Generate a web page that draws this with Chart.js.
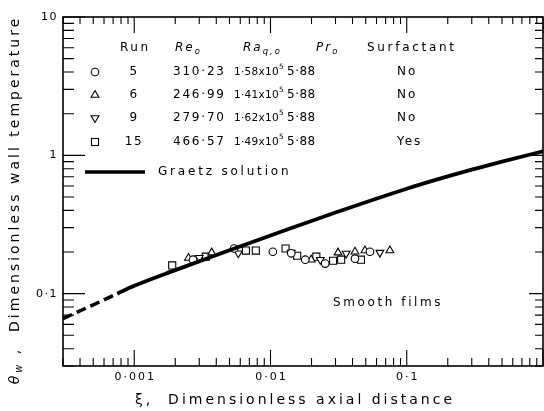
<!DOCTYPE html>
<html>
<head>
<meta charset="utf-8">
<script src="https://cdn.jsdelivr.net/npm/chart.js@4.4.0/dist/chart.umd.min.js"></script>
<style>
  html, body { margin: 0; padding: 0; background: #fff; }
  canvas { display: block; }
</style>
</head>
<body>
<canvas id="chart" width="544" height="411"></canvas>
<script>
// --- Graetz solution (dashed part at small xi, then solid) ---
const graetzDashX = [0.0003, 0.0005, 0.00075];
const graetzDashY = [0.066, 0.083, 0.1];
const graetzX = [0.00075, 0.001, 0.002, 0.005, 0.01, 0.03, 0.1, 0.163, 0.3, 0.5, 1.0];
const graetzY = [0.1, 0.114, 0.148, 0.206, 0.263, 0.386, 0.574, 0.665, 0.789, 0.9, 1.07];

// --- measured runs ---
const run5X = [0.0027, 0.0054, 0.0104, 0.0142, 0.018, 0.0252, 0.0417, 0.0537];
const run5Y = [0.176, 0.212, 0.201, 0.196, 0.176, 0.165, 0.179, 0.201];
const run6X = [0.0025, 0.0037, 0.0199, 0.0313, 0.0417, 0.0493, 0.0752];
const run6Y = [0.181, 0.198, 0.176, 0.198, 0.201, 0.205, 0.205];
const run9X = [0.003, 0.0058, 0.0142, 0.0232, 0.0359, 0.0635];
const run9Y = [0.182, 0.196, 0.198, 0.176, 0.195, 0.198];
const run15X = [0.0019, 0.00335, 0.0066, 0.0078, 0.0129, 0.0157, 0.0217, 0.0288, 0.033, 0.0461];
const run15Y = [0.16, 0.185, 0.205, 0.205, 0.212, 0.188, 0.185, 0.173, 0.176, 0.176];

// --- tick labels ---
const xTickValues = [0.001, 0.01, 0.1];
const xTickText = ["0·001", "0·01", "0·1"];
const yTickValues = [10, 1, 0.1];
const yTickText = ["10", "1", "0·1"];

// --- table in the plot ---
const runNames = ["5", "6", "9", "15"];
const reValues = ["310·23", "246·99", "279·70", "466·57"];
const raValues = ["1·58x10", "1·41x10", "1·62x10", "1·49x10"];
const prValues = ["5·88", "5·88", "5·88", "5·88"];
const surfactant = ["No", "No", "No", "Yes"];

const FONT = '"DejaVu Sans"';
const pts = (xs, ys) => xs.map((v, i) => ({ x: v, y: ys[i] }));

// draws text pieces with sub/superscripts, returns end x
function rich(ctx, parts, x, y, size) {
  parts.forEach(p => {
    const fs = p.s ? size * 0.7 : size;
    ctx.font = (p.i ? "italic " : "") + fs + "px " + FONT;
    const dy = p.s === "sub" ? size * 0.35 : p.s === "sup" ? -size * 0.45 : 0;
    ctx.fillText(p.t, x, y + dy);
    x += ctx.measureText(p.t).width;
  });
  return x;
}

function richWidth(ctx, parts, size) {
  let w = 0;
  parts.forEach(p => {
    const fs = p.s ? size * 0.7 : size;
    ctx.font = (p.i ? "italic " : "") + fs + "px " + FONT;
    w += ctx.measureText(p.t).width;
  });
  return w;
}

function text(ctx, s, x, y, size, spacing, align) {
  ctx.font = size + "px " + FONT;
  ctx.letterSpacing = spacing + "px";
  ctx.textAlign = align || "left";
  ctx.fillText(s, x, y);
  ctx.textAlign = "left";
}

const decor = {
  id: "decor",
  afterDraw(chart) {
    const { ctx, chartArea: a } = chart;
    const xs = chart.scales.x, ys = chart.scales.y;
    ctx.save();
    ctx.strokeStyle = "#000";
    ctx.fillStyle = "#000";

    // frame
    ctx.lineWidth = 1.6;
    ctx.strokeRect(a.left, a.top, a.right - a.left, a.bottom - a.top);

    // inward ticks
    ctx.lineWidth = 1.1;
    ctx.beginPath();
    for (let d = -4; d <= 0; d++) {
      for (let m = 1; m < 10; m++) {
        const v = m * Math.pow(10, d);
        if (v < xs.min * 0.999 || v > xs.max * 1.001) continue;
        const px = xs.getPixelForValue(v);
        const major = m === 1;
        ctx.moveTo(px, a.bottom); ctx.lineTo(px, a.bottom - (major ? 16 : 8));
        ctx.moveTo(px, a.top); ctx.lineTo(px, a.top + (major ? 16 : 7));
      }
    }
    for (let d = -2; d <= 1; d++) {
      for (let m = 1; m < 10; m++) {
        const v = m * Math.pow(10, d);
        if (v < ys.min * 0.999 || v > ys.max * 1.001) continue;
        const py = ys.getPixelForValue(v);
        const major = m === 1;
        ctx.moveTo(a.left, py); ctx.lineTo(a.left + (major ? 22 : 11), py);
        ctx.moveTo(a.right, py); ctx.lineTo(a.right - (major ? 14 : 8), py);
      }
    }
    ctx.stroke();

    ctx.textBaseline = "middle";

    // tick labels, placed by the scales
    xTickValues.forEach((v, i) => {
      text(ctx, xTickText[i], xs.getPixelForValue(v) + 1, a.bottom + 11, 11, 2, "center");
    });
    yTickValues.forEach((v, i) => {
      text(ctx, yTickText[i], a.left - 5, ys.getPixelForValue(v), 11, 1.5, "right");
    });

    // axis titles
    text(ctx, "ξ,  Dimensionless axial distance", 295, 400, 14, 3, "center");

    ctx.save();
    ctx.letterSpacing = "3px";
    const tparts = [{ t: "θ", i: 1 }, { t: "w", s: "sub", i: 1 }, { t: " ,  Dimensionless wall temperature" }];
    ctx.translate(15, 200);
    ctx.rotate(-Math.PI / 2);
    const tw = richWidth(ctx, tparts, 14);
    rich(ctx, tparts, -tw / 2, 0, 14);
    ctx.restore();

    // table
    const hy = 48;
    text(ctx, "Run", 120, hy, 12, 2.5);
    ctx.letterSpacing = "2px";
    rich(ctx, [{ t: "Re", i: 1 }, { t: "o", s: "sub", i: 1 }], 175, hy, 12);
    rich(ctx, [{ t: "Ra", i: 1 }, { t: "q,o", s: "sub", i: 1 }], 243, hy, 12);
    rich(ctx, [{ t: "Pr", i: 1 }, { t: "o", s: "sub", i: 1 }], 316, hy, 12);
    text(ctx, "Surfactant", 367, hy, 12, 2.7);

    const rowY = [72, 95, 118, 142];
    const dsIdx = [2, 3, 4, 5];
    rowY.forEach((ry, i) => {
      const ds = chart.data.datasets[dsIdx[i]];
      ctx.save();
      ctx.fillStyle = "#fff";
      ctx.strokeStyle = "#000";
      ctx.lineWidth = 1.1;
      Chart.helpers.drawPoint(ctx, {
        pointStyle: ds.pointStyle, radius: ds.pointRadius,
        rotation: ds.pointRotation || 0, borderWidth: 1.1
      }, 95, ry);
      ctx.restore();
      text(ctx, runNames[i], 134, ry, 12, 1.5, "center");
      text(ctx, reValues[i], 173, ry, 12, 1.8);
      ctx.letterSpacing = "0.3px";
      rich(ctx, [{ t: raValues[i] }, { t: "5", s: "sup" }], 234, ry, 10.5);
      text(ctx, prValues[i], 287, ry, 12, 0.5);
      text(ctx, surfactant[i], 397, ry, 12, 2);
    });

    // Graetz legend line
    ctx.lineWidth = 3.5;
    ctx.beginPath();
    ctx.moveTo(85, 172); ctx.lineTo(145, 172);
    ctx.stroke();
    text(ctx, "Graetz solution", 158, 172, 12, 2.8);

    text(ctx, "Smooth films", 333, 303, 12, 2.6);
    ctx.restore();
  }
};

new Chart(document.getElementById("chart"), {
  type: "scatter",
  data: {
    datasets: [
      {
        label: "Graetz (dashed)",
        data: pts(graetzDashX, graetzDashY),
        showLine: true,
        borderColor: "#000",
        borderWidth: 3.5,
        borderDash: [10, 5],
        pointRadius: 0,
        tension: 0
      },
      {
        label: "Graetz solution",
        data: pts(graetzX, graetzY),
        showLine: true,
        borderColor: "#000",
        borderWidth: 3.8,
        pointRadius: 0,
        cubicInterpolationMode: "monotone"
      },
      {
        label: "Run 5",
        data: pts(run5X, run5Y),
        pointStyle: "circle",
        pointRadius: 3.8,
        backgroundColor: "#fff",
        borderColor: "#000",
        borderWidth: 1.1
      },
      {
        label: "Run 6",
        data: pts(run6X, run6Y),
        pointStyle: "triangle",
        pointRadius: 4.5,
        backgroundColor: "#fff",
        borderColor: "#000",
        borderWidth: 1.1
      },
      {
        label: "Run 9",
        data: pts(run9X, run9Y),
        pointStyle: "triangle",
        pointRotation: 180,
        pointRadius: 4.5,
        backgroundColor: "#fff",
        borderColor: "#000",
        borderWidth: 1.1
      },
      {
        label: "Run 15",
        data: pts(run15X, run15Y),
        pointStyle: "rect",
        pointRadius: 5,
        backgroundColor: "#fff",
        borderColor: "#000",
        borderWidth: 1.1
      }
    ]
  },
  options: {
    responsive: false,
    animation: false,
    devicePixelRatio: 1,
    layout: { autoPadding: false, padding: { top: 17, right: 1, left: 0, bottom: 0 } },
    plugins: { legend: { display: false }, tooltip: { enabled: false } },
    scales: {
      x: {
        type: "logarithmic",
        min: 0.0003,
        max: 1,
        grid: { display: false, drawTicks: false },
        border: { display: false },
        ticks: { display: false },
        afterFit: s => { s.height = 45; s.paddingLeft = 0; s.paddingRight = 0; }
      },
      y: {
        type: "logarithmic",
        min: 0.03,
        max: 10,
        grid: { display: false, drawTicks: false },
        border: { display: false },
        ticks: { display: false },
        afterFit: s => { s.width = 63; s.paddingTop = 0; s.paddingBottom = 0; }
      }
    }
  },
  plugins: [decor]
});
</script>
</body>
</html>
